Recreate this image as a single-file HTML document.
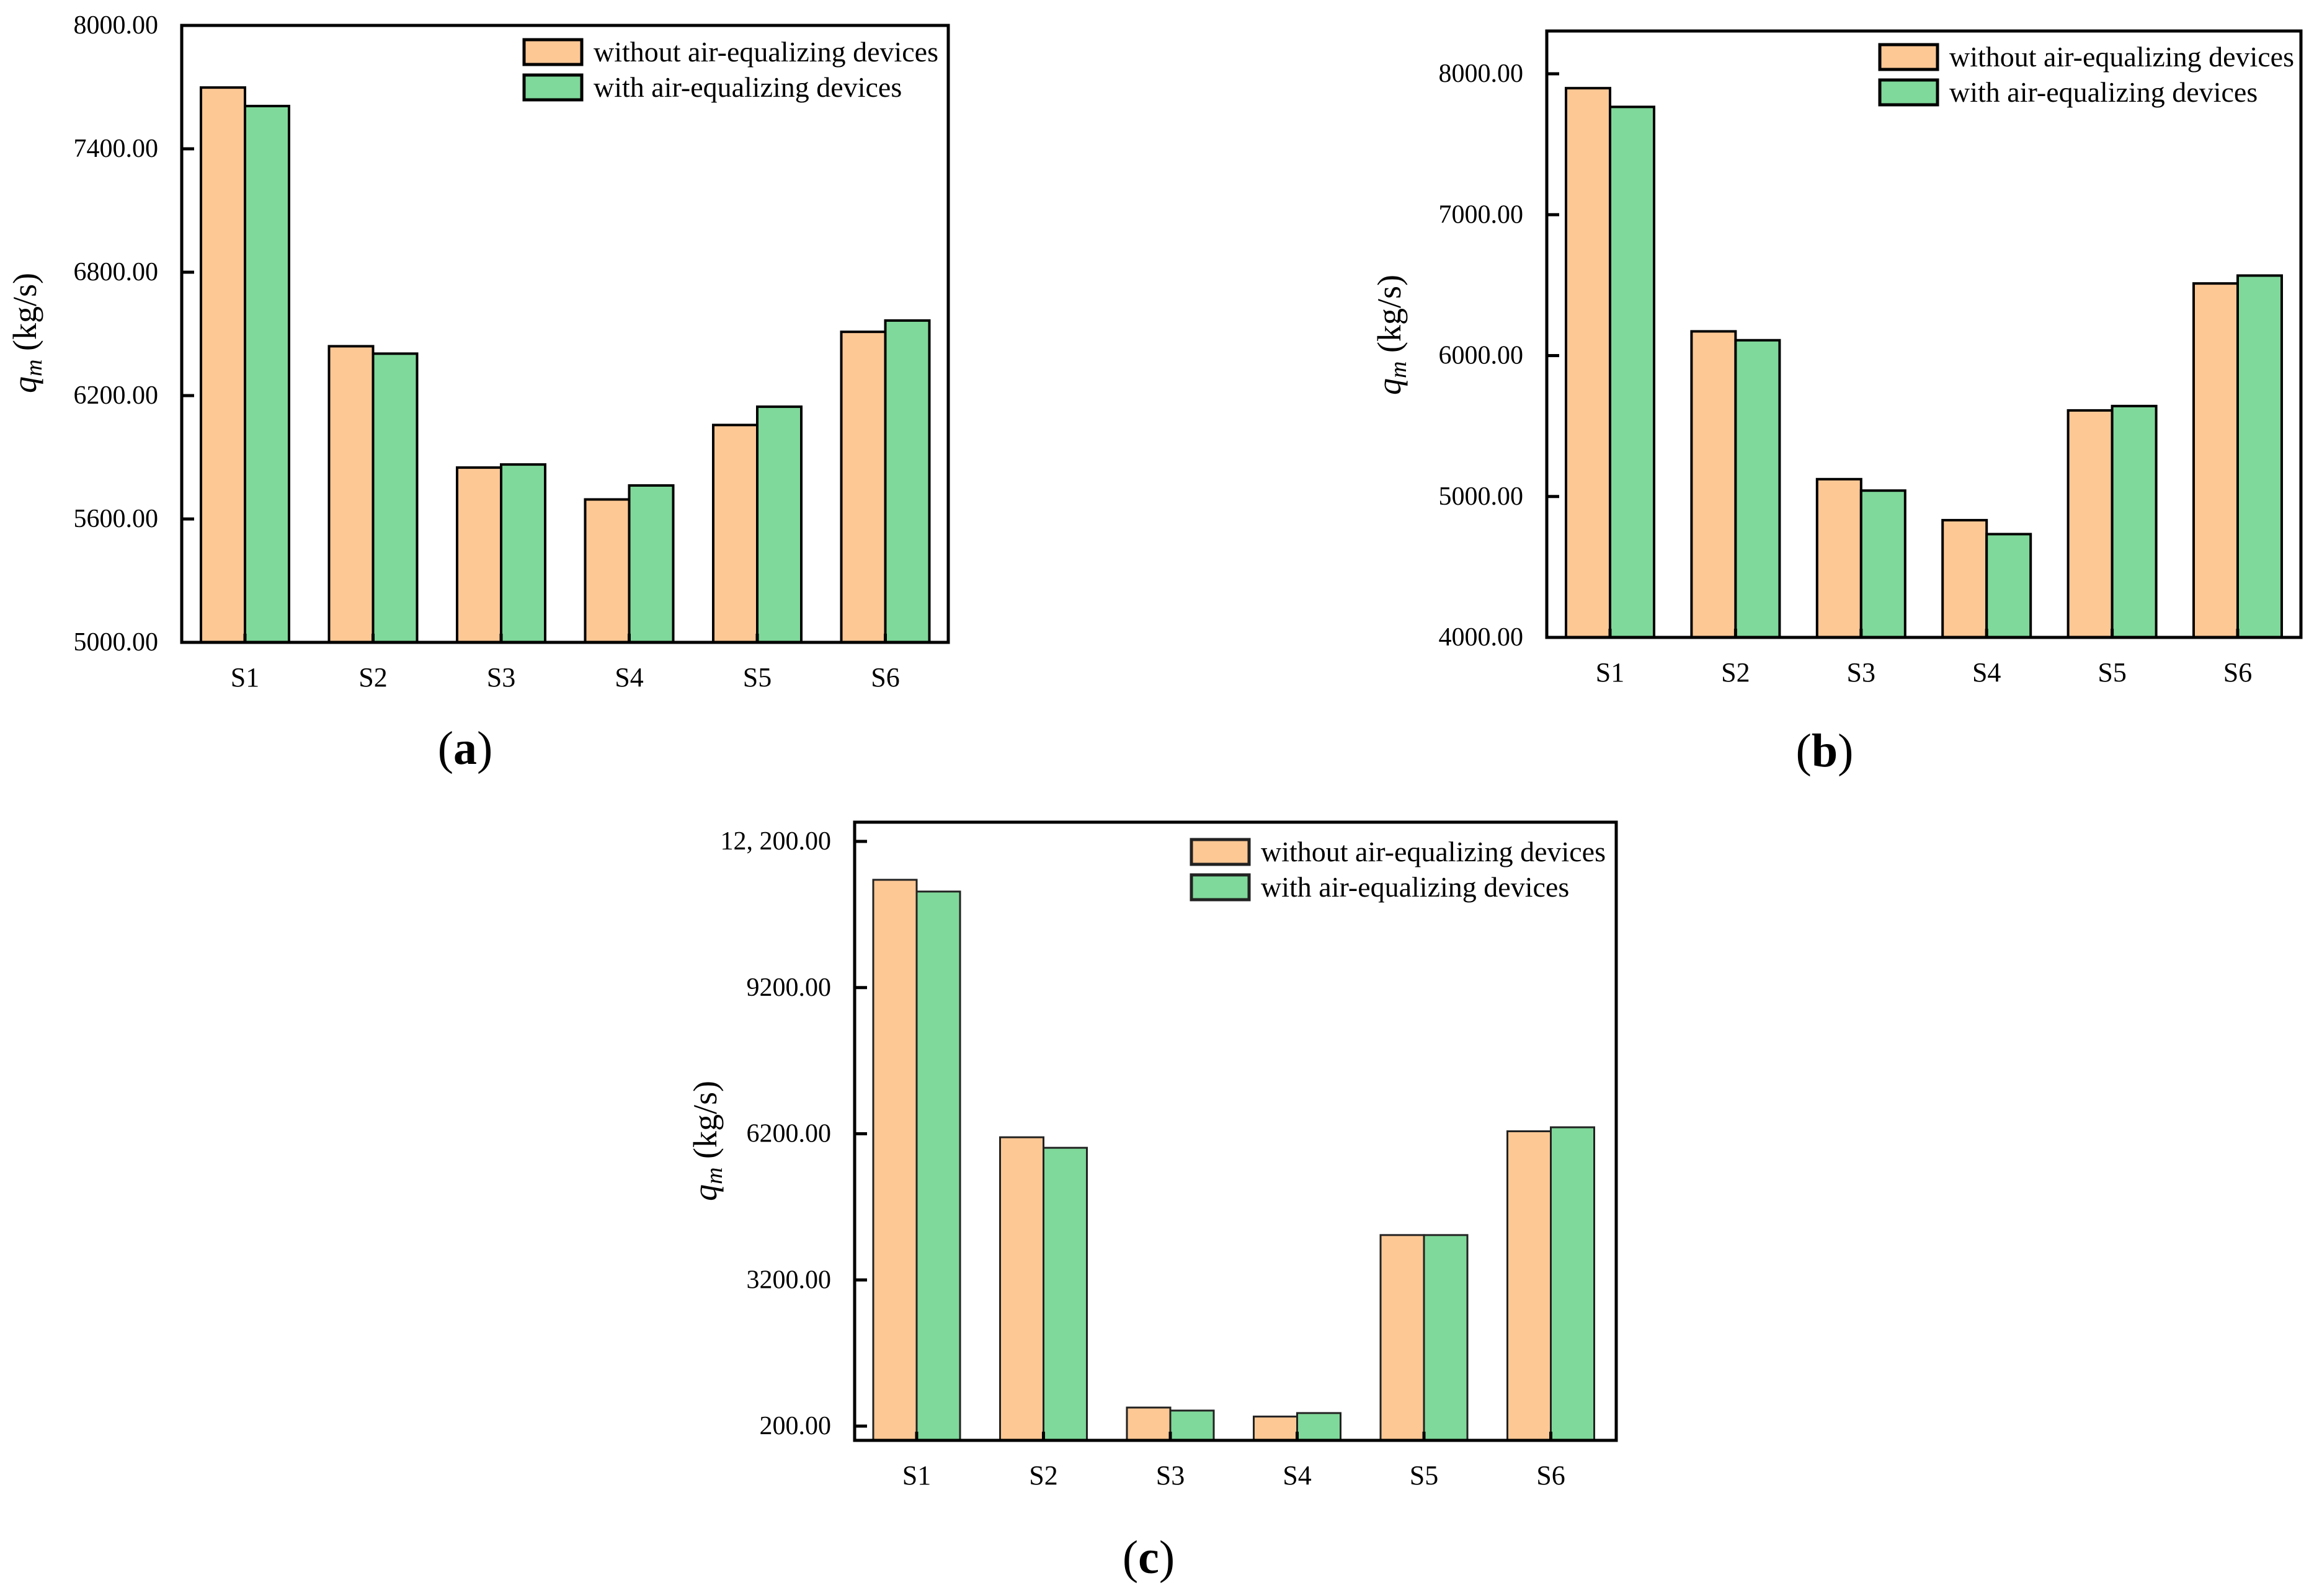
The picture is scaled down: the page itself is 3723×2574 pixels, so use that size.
<!DOCTYPE html>
<html><head><meta charset="utf-8"><style>
html,body{margin:0;padding:0;background:#fff;}
svg{display:block;font-family:"Liberation Serif",serif;}
svg text{font-family:"Liberation Serif",serif;}
</style></head><body>
<svg id="fig" width="3723" height="2574" viewBox="0 0 3723 2574" xmlns="http://www.w3.org/2000/svg" font-family="Liberation Serif, serif"></svg>
<script>
const categories = ["S1","S2","S3","S4","S5","S6"];
const aWithout = [7698,6440,5850,5695,6057,6510];
const aWith    = [7608,6404,5865,5763,6146,6565];
const aTicks   = [5000,5600,6200,6800,7400,8000];
const aTickLabels = ["5000.00","5600.00","6200.00","6800.00","7400.00","8000.00"];
const bWithout = [7898,6172,5123,4832,5611,6512];
const bWith    = [7765,6109,5042,4733,5642,6568];
const bTicks   = [4000,5000,6000,7000,8000];
const bTickLabels = ["4000.00","5000.00","6000.00","7000.00","8000.00"];
const cWithout = [11412,6128,581,396,4121,6251];
const cWith    = [11171,5912,519,468,4121,6333];
const cTicks   = [200,3200,6200,9200,12200];
const cTickLabels = ["200.00","3200.00","6200.00","9200.00","12, 200.00"];
const legendLabels = ["without air-equalizing devices","with air-equalizing devices"];

const NS = "http://www.w3.org/2000/svg";
const svg = document.getElementById("fig");
const FF = "Liberation Serif, serif";
function mk(tag, attrs, parent){
  const e = document.createElementNS(NS, tag);
  for (const k in attrs) e.setAttribute(k, attrs[k]);
  if (tag === "text") e.setAttribute("font-family", FF);
  (parent||svg).appendChild(e);
  return e;
}

function panel(p){
  const g = mk("g", {});
  
  
  const yScale = v => p.y0 + (v - p.v0) / (p.v1 - p.v0) * (p.y1 - p.y0);
  const xCenter = i => p.cx0 + i * p.step;
  for (let i = 0; i < categories.length; i++){
    const cx = xCenter(i);
    const r1 = mk("rect", {x: cx - p.bw, y: yScale(p.s1[i]), width: p.bw, height: p.bottom - yScale(p.s1[i]), fill: "#FEC894", stroke: p.barStroke, "stroke-width": p.bsw}, g);
    
    
    const r2 = mk("rect", {x: cx, y: yScale(p.s2[i]), width: p.bw, height: p.bottom - yScale(p.s2[i]), fill: "#7FD99A", stroke: p.barStroke, "stroke-width": p.bsw}, g);
    
    
    const tk = mk("line", {x1: cx, x2: cx, y1: p.bottom, y2: p.bottom - 14, stroke: "#000", "stroke-width": 5}, g);
    
    
    const t = mk("text", {x: cx, y: p.bottom + 71, "text-anchor": "middle", "font-size": 44}, g);
    t.textContent = categories[i];
    
    
  }
  const fr = mk("rect", {x: p.left, y: p.top, width: p.right - p.left, height: p.bottom - p.top, fill: "none", stroke: "#000", "stroke-width": 5}, g);
  
  
  for (let i = 0; i < p.ticks.length; i++){
    const y = yScale(p.ticks[i]);
    const l = mk("line", {x1: p.left, x2: p.left + 20, y1: y, y2: y, stroke: "#000", "stroke-width": 5}, g);
    
    
    const t = mk("text", {x: p.left - 38, y: y + 13, "text-anchor": "end", "font-size": 42}, g);
    t.textContent = p.tickLabels[i];
    
    
  }
  const yt = mk("text", {transform: "translate(" + p.titleX + "," + p.titleY + ") rotate(-90)", "text-anchor": "middle", "font-size": 54}, g);
  
  
  const q = mk("tspan", {"font-style": "italic"}, yt); q.textContent = "q";
  const m = mk("tspan", {"font-style": "italic", "font-size": 38, dy: 9}, yt); m.textContent = "m";
  const rest = mk("tspan", {dy: -9}, yt); rest.textContent = " (kg/s)";
  const cols = ["#FEC894","#7FD99A"];
  for (let i = 0; i < 2; i++){
    const yy = p.legY + i * 57;
    const lr = mk("rect", {x: p.legX, y: yy, width: 93, height: 40, fill: cols[i], stroke: p.barStroke, "stroke-width": 5}, g);
    
    
    const lt = mk("text", {x: p.legX + 112, y: yy + 35, "font-size": 46}, g);
    lt.textContent = legendLabels[i];
    
    
  }
  const pl = mk("text", {x: p.labX, y: p.labY, "text-anchor": "middle", "font-size": 76}, g);
  
  
  const a1 = mk("tspan", {}, pl); a1.textContent = "(";
  const a2 = mk("tspan", {"font-weight": "bold"}, pl); a2.textContent = p.id;
  const a3 = mk("tspan", {}, pl); a3.textContent = ")";
}

panel({id:"a", s1:aWithout, s2:aWith, ticks:aTicks, tickLabels:aTickLabels,
  v0:8000, v1:5000, y0:41, y1:1036, left:293, right:1529, top:41, bottom:1036,
  cx0:395, step:206.5, bw:71, bsw:4, barStroke:"#000",
  titleX:58, titleY:537, legX:845, legY:64, labX:750, labY:1232});
panel({id:"b", s1:bWithout, s2:bWith, ticks:bTicks, tickLabels:bTickLabels,
  v0:8000, v1:4000, y0:119, y1:1028, left:2494, right:3710, top:50, bottom:1028,
  cx0:2596, step:202.4, bw:71, bsw:4, barStroke:"#000",
  titleX:2258, titleY:540, legX:3031, legY:72, labX:2942, labY:1236});
panel({id:"c", s1:cWithout, s2:cWith, ticks:cTicks, tickLabels:cTickLabels,
  v0:12200, v1:200, y0:1357, y1:2300, left:1378, right:2606, top:1326, bottom:2323,
  cx0:1478, step:204.5, bw:70, bsw:3, barStroke:"#222",
  titleX:1155, titleY:1840, legX:1921, legY:1354, labX:1852, labY:2537});
</script>
</body></html>
